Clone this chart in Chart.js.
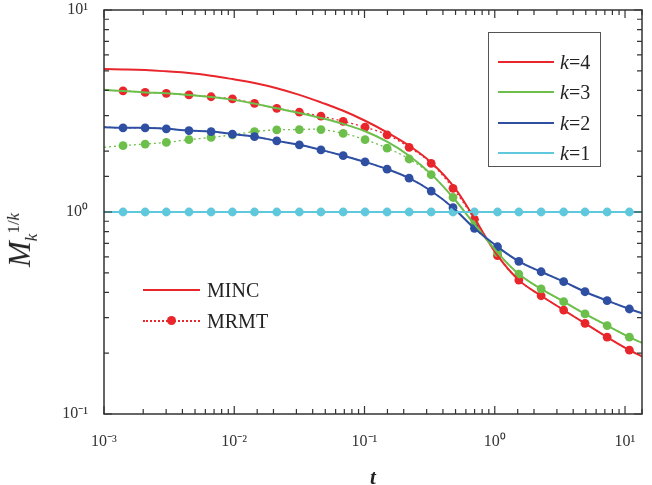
<!DOCTYPE html>
<html>
<head>
<meta charset="utf-8">
<script src="https://cdn.jsdelivr.net/npm/chart.js@4/dist/chart.umd.min.js"></script>
<style>
  html, body { margin: 0; padding: 0; background: #fff; }
  #wrap { position: relative; width: 652px; height: 485px; }
  #c { position: absolute; left: 0; top: 0; }
  .serif { font-family: "Liberation Serif", "DejaVu Serif", serif; color: #222; }
  #ytitle { position: absolute; left: 22px; top: 240px; transform: translate(-50%, -50%) rotate(-90deg);
            white-space: nowrap; font-size: 31px; line-height: 1; }
  #ytitle sub, #ytitle sup { font-size: 17px; }
  #kbox { position: absolute; left: 488px; top: 32px; width: 111px; height: 133px; border: 1.5px solid #555; }
  .row { position: absolute; left: 9px; height: 20px; font-size: 20px; line-height: 20px; white-space: nowrap; }
  .row .ln { position: absolute; left: 0; top: 9px; width: 56px; height: 0; border-top: 2px solid; }
  .row .tx { position: absolute; left: 62px; top: 0; }
  .mrow { position: absolute; left: 143px; height: 22px; font-size: 20px; line-height: 22px; white-space: nowrap; }
  .mrow .ln { position: absolute; left: 0; top: 10px; width: 57px; height: 0; }
  .mrow .tx { position: absolute; left: 64px; top: 0; }
  .dot { position: absolute; left: 24px; top: 6px; width: 9px; height: 9px; border-radius: 50%; background: #e8262b; }
</style>
</head>
<body>
<div id="wrap">
  <canvas id="c" width="652" height="485"></canvas>
  <div id="ytitle" class="serif"><i>M</i><sub><i>k</i></sub><sup>1/<i>k</i></sup></div>
  <div id="kbox" class="serif">
    <div class="row" style="top:19px"><span class="ln" style="border-color:#e8262b"></span><span class="tx"><i>k</i>=4</span></div>
    <div class="row" style="top:49px"><span class="ln" style="border-color:#6cbf4a"></span><span class="tx"><i>k</i>=3</span></div>
    <div class="row" style="top:80px"><span class="ln" style="border-color:#2f4fa2"></span><span class="tx"><i>k</i>=2</span></div>
    <div class="row" style="top:110px"><span class="ln" style="border-color:#5fc8dc"></span><span class="tx"><i>k</i>=1</span></div>
  </div>
  <div class="mrow serif" style="top:279px"><span class="ln" style="border-top:2px solid #e8262b"></span><span class="tx">MINC</span></div>
  <div class="mrow serif" style="top:310px"><span class="ln" style="border-top:2px dotted #e8262b"></span><span class="dot"></span><span class="tx">MRMT</span></div>
</div>

<script>
// time points (first = left edge, last = right edge, the rest carry markers)
const tValues = [0.001, 0.0014, 0.00207, 0.00301, 0.00449, 0.00664, 0.00968, 0.0143, 0.0212, 0.0316,
  0.0463, 0.0686, 0.101, 0.149, 0.220, 0.325, 0.478, 0.698, 1.05, 1.53, 2.27, 3.38, 4.93, 7.29, 10.8, 13.5];

// MINC (solid lines), one value per tValues entry
const mincK4 = [5.10, 5.08, 5.04, 4.97, 4.88, 4.73, 4.55, 4.35, 4.10, 3.80, 3.49, 3.17, 2.83, 2.48, 2.13,
  1.76, 1.35, 0.93, 0.61, 0.46, 0.385, 0.327, 0.281, 0.240, 0.207, 0.193];
const mincK3 = [4.03, 3.97, 3.91, 3.87, 3.80, 3.71, 3.60, 3.44, 3.26, 3.09, 2.92, 2.73, 2.51, 2.23, 1.90,
  1.54, 1.18, 0.87, 0.63, 0.493, 0.416, 0.36, 0.313, 0.274, 0.240, 0.225];
const mincK2 = [2.63, 2.61, 2.61, 2.58, 2.53, 2.50, 2.43, 2.36, 2.25, 2.15, 2.03, 1.90, 1.77, 1.63, 1.47,
  1.27, 1.05, 0.83, 0.673, 0.570, 0.506, 0.452, 0.403, 0.364, 0.331, 0.315];
const mincK1 = [1, 1, 1, 1, 1, 1, 1, 1, 1, 1, 1, 1, 1, 1, 1, 1, 1, 1, 1, 1, 1, 1, 1, 1, 1, 1];

// MRMT (dotted + markers), first 25 tValues
const mrmtK4 = [4.00, 3.98, 3.91, 3.87, 3.80, 3.72, 3.63, 3.45, 3.26, 3.12, 2.98, 2.81, 2.63, 2.41, 2.09,
  1.74, 1.31, 0.92, 0.608, 0.46, 0.385, 0.327, 0.281, 0.240, 0.207];
const mrmtK3 = [2.09, 2.13, 2.17, 2.21, 2.28, 2.34, 2.41, 2.50, 2.55, 2.56, 2.56, 2.45, 2.28, 2.07, 1.83,
  1.53, 1.18, 0.87, 0.63, 0.493, 0.416, 0.36, 0.313, 0.274, 0.240];
const mrmtK2 = [2.63, 2.61, 2.61, 2.58, 2.53, 2.50, 2.43, 2.36, 2.25, 2.15, 2.03, 1.90, 1.77, 1.63, 1.47,
  1.27, 1.05, 0.83, 0.673, 0.570, 0.506, 0.452, 0.403, 0.364, 0.331];
const mrmtK1 = [1, 1, 1, 1, 1, 1, 1, 1, 1, 1, 1, 1, 1, 1, 1, 1, 1, 1, 1, 1, 1, 1, 1, 1, 1];

const xTickLabels = { "-3": "10⁻³", "-2": "10⁻²", "-1": "10⁻¹", "0": "10⁰", "1": "10¹" };
const yTickLabels = { "-1": "10⁻¹", "0": "10⁰", "1": "10¹" };

const colors = { k4: "#e8262b", k3: "#6cbf4a", k2: "#2f4fa2", k1: "#5fc8dc" };

const pts = arr => arr.map((v, i) => ({ x: tValues[i], y: v }));

function mincSet(arr, col) {
  return { data: pts(arr), borderColor: col, borderWidth: 2, pointRadius: 0, fill: false, tension: 0.4 };
}
function mrmtSet(arr, col) {
  return {
    data: pts(arr), borderColor: col, borderWidth: 1.3, borderDash: [2, 3], fill: false, tension: 0.4,
    pointRadius: arr.map((v, i) => i === 0 ? 0 : 4.4), pointBackgroundColor: col, pointBorderColor: col,
    pointBorderWidth: 0
  };
}

function decade(v) {
  const l = Math.log10(v);
  return Math.abs(l - Math.round(l)) < 1e-6 ? Math.round(l) : null;
}

// frame + inward ticks on all four sides
const frameTicks = {
  id: "frameTicks",
  afterDatasetsDraw(chart) {
    const { ctx, chartArea: a, scales } = chart;
    ctx.save();
    ctx.strokeStyle = "#333";
    ctx.lineWidth = 1.5;
    ctx.strokeRect(a.left, a.top, a.right - a.left, a.bottom - a.top);
    ctx.lineWidth = 1.2;
    ctx.beginPath();
    scales.x.ticks.forEach(t => {
      if (t.value > scales.x.max + 1e-9) return;
      const x = scales.x.getPixelForValue(t.value);
      const len = decade(t.value) !== null ? 8 : 5;
      ctx.moveTo(x, a.bottom); ctx.lineTo(x, a.bottom - len);
      ctx.moveTo(x, a.top); ctx.lineTo(x, a.top + len);
    });
    scales.y.ticks.forEach(t => {
      const y = scales.y.getPixelForValue(t.value);
      const len = decade(t.value) !== null ? 8 : 5;
      ctx.moveTo(a.left, y); ctx.lineTo(a.left + len, y);
      ctx.moveTo(a.right, y); ctx.lineTo(a.right - len, y);
    });
    ctx.stroke();
    ctx.restore();
  }
};

new Chart(document.getElementById("c"), {
  type: "line",
  data: {
    datasets: [
      mincSet(mincK1, colors.k1),
      mincSet(mincK2, colors.k2),
      mincSet(mincK3, colors.k3),
      mincSet(mincK4, colors.k4),
      mrmtSet(mrmtK1, colors.k1),
      mrmtSet(mrmtK2, colors.k2),
      mrmtSet(mrmtK3, colors.k3),
      mrmtSet(mrmtK4, colors.k4)
    ]
  },
  options: {
    responsive: false,
    animation: false,
    layout: { padding: { top: 10, right: 10, left: 0, bottom: 0 } },
    plugins: { legend: { display: false }, tooltip: { enabled: false } },
    scales: {
      x: {
        type: "logarithmic",
        min: 0.001,
        max: 13.5,
        afterFit: s => { s.height = 71; s.paddingLeft = 0; s.paddingRight = 0; },
        border: { display: false },
        grid: { display: false },
        ticks: {
          autoSkip: false, maxRotation: 0, padding: 10, color: "#333",
          font: { family: "Liberation Serif", size: 16 },
          callback: v => { const d = decade(v); return d !== null && xTickLabels[d] ? xTickLabels[d] : ""; }
        },
        title: {
          display: true, text: "t", color: "#222", padding: { top: 0, bottom: -4 },
          font: { family: "Liberation Serif", size: 21, style: "italic", weight: "bold", lineHeight: 1 }
        }
      },
      y: {
        type: "logarithmic",
        min: 0.1,
        max: 10,
        afterFit: s => { s.width = 104; s.paddingTop = 0; s.paddingBottom = 0; },
        border: { display: false },
        grid: { display: false },
        ticks: {
          autoSkip: false, padding: 8, color: "#333",
          font: { family: "Liberation Serif", size: 16 },
          callback: v => { const d = decade(v); return d !== null && yTickLabels[d] ? yTickLabels[d] : ""; }
        }
      }
    }
  },
  plugins: [frameTicks]
});
</script>
</body>
</html>
